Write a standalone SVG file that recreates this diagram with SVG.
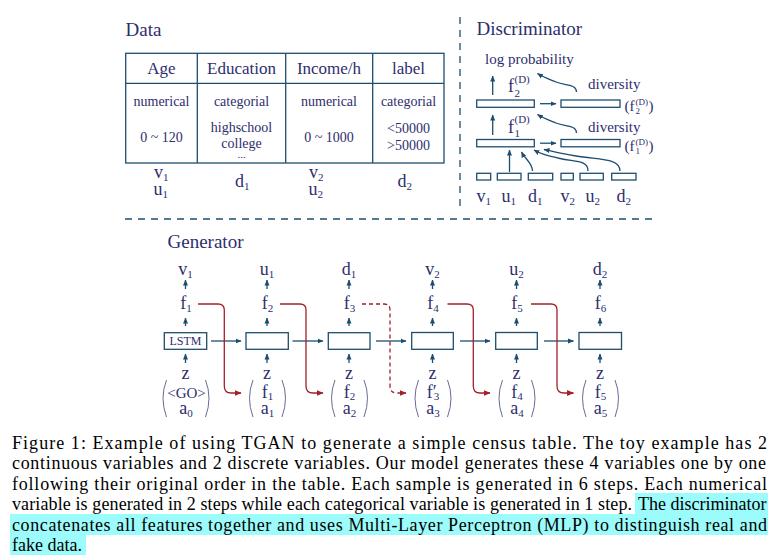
<svg xmlns="http://www.w3.org/2000/svg" width="781" height="560" viewBox="0 0 781 560" font-family="'Liberation Serif','Times New Roman',serif">
<defs>
<style>
.t{font-family:"Liberation Serif","Times New Roman",serif;fill:#2e2e6e}
.cap{font-family:"Liberation Serif","Times New Roman",serif;fill:#000;font-size:18px}
.ln{stroke:#1d4e6f;fill:none;stroke-width:1.3}
.bx{stroke:#1d4e6f;fill:#fff;stroke-width:1.3}
.rd{stroke:#a3202a;fill:none;stroke-width:1.3}
.par{stroke:#6a6a9a;fill:none;stroke-width:1}
.dash{stroke:#1d4e6f;fill:none;stroke-width:1.3;stroke-dasharray:7 6}
.hl{fill:#9cfbfb}
.s{font-size:11px}
</style>
<marker id="ah" viewBox="0 0 6 6" markerWidth="6" markerHeight="6" refX="5.5" refY="3" orient="auto" markerUnits="userSpaceOnUse"><path d="M0,0.5 L6,3 L0,5.5 z" fill="#1d4e6f"/></marker>
<marker id="ahr" viewBox="0 0 6 6" markerWidth="7" markerHeight="7" refX="5.5" refY="3" orient="auto" markerUnits="userSpaceOnUse"><path d="M0,0.5 L6,3 L0,5.5 z" fill="#a3202a"/></marker>
</defs>
<rect width="781" height="560" fill="#fff"/>

<g id="separators">
<line class="dash" x1="460" y1="17" x2="460" y2="207"/>
<line class="dash" x1="125" y1="219" x2="652" y2="219"/>
</g>

<g id="data">
<text class="t" x="125.5" y="36" font-size="19">Data</text>
<rect class="ln" x="125.7" y="53.3" width="318.3" height="109.7"/>
<line class="ln" x1="125.7" y1="83.3" x2="444" y2="83.3" stroke-width="2"/>
<line class="ln" x1="197.3" y1="53.3" x2="197.3" y2="163"/>
<line class="ln" x1="285.7" y1="53.3" x2="285.7" y2="163"/>
<line class="ln" x1="372.7" y1="53.3" x2="372.7" y2="163"/>
<g class="t" font-size="17" text-anchor="middle">
<text x="161.5" y="74">Age</text>
<text x="241.5" y="74">Education</text>
<text x="329" y="74">Income/h</text>
<text x="408.5" y="74">label</text>
</g>
<g class="t" font-size="14" text-anchor="middle">
<text x="161.5" y="105.5">numerical</text>
<text x="241.5" y="105.5">categorial</text>
<text x="329" y="105.5">numerical</text>
<text x="408.5" y="105.5">categorial</text>
<text x="161.5" y="142">0 ~ 120</text>
<text x="241.5" y="131.5">highschool</text>
<text x="241.5" y="147.5">college</text>
<text x="241.5" y="158" font-size="11">...</text>
<text x="329" y="142">0 ~ 1000</text>
<text x="408.5" y="133">&lt;50000</text>
<text x="408.5" y="150">&gt;50000</text>
</g>
<g class="t" font-size="18">
<text x="154" y="178">v<tspan class="s" dy="3">1</tspan></text>
<text x="153.5" y="195">u<tspan class="s" dy="3">1</tspan></text>
<text x="235" y="187">d<tspan class="s" dy="3">1</tspan></text>
<text x="309" y="178">v<tspan class="s" dy="3">2</tspan></text>
<text x="308.5" y="195">u<tspan class="s" dy="3">2</tspan></text>
<text x="397.5" y="187">d<tspan class="s" dy="3">2</tspan></text>
</g>
</g>

<g id="discriminator">
<text class="t" x="476.5" y="35" font-size="19">Discriminator</text>
<text class="t" x="485" y="64" font-size="15">log probability</text>
<g id="d-layer2">
<rect class="bx" x="476.7" y="100" width="57.6" height="7.3"/>
<rect class="bx" x="561" y="100" width="59" height="7.3"/>
</g>
<g id="d-layer1">
<rect class="bx" x="476.7" y="139.5" width="57.6" height="7.3"/>
<rect class="bx" x="561" y="139.5" width="59" height="7.3"/>
</g>
<g id="d-inputs">
<rect class="bx" x="476.7" y="173.3" width="14" height="6.7"/>
<rect class="bx" x="497.3" y="173.3" width="23.7" height="6.7"/>
<rect class="bx" x="528.3" y="173.3" width="24.4" height="6.7"/>
<rect class="bx" x="561" y="173.3" width="12.3" height="6.7"/>
<rect class="bx" x="580" y="173.3" width="23.3" height="6.7"/>
<rect class="bx" x="611.7" y="173.3" width="24.3" height="6.7"/>
</g>
<g class="t" font-size="18">
<text x="508" y="92">f</text>
<text x="514.5" y="97" font-size="11">2</text>
<text x="514.5" y="83" font-size="11">(D)</text>
<text x="508" y="132.5">f</text>
<text x="514.5" y="137" font-size="11">1</text>
<text x="514.5" y="123" font-size="11">(D)</text>
</g>
<g class="t" font-size="15">
<text x="588" y="89">diversity</text>
<text x="588" y="131.5">diversity</text>
<text x="624.5" y="111">(f</text>
<text x="635.5" y="104.5" font-size="9">(D)</text>
<text x="635.5" y="114" font-size="9">2</text>
<text x="648.5" y="111">)</text>
<text x="624.5" y="151">(f</text>
<text x="635.5" y="144.5" font-size="9">(D)</text>
<text x="635.5" y="154" font-size="9">1</text>
<text x="648.5" y="151">)</text>
</g>
<g class="t" font-size="18">
<text x="476.5" y="201.5">v<tspan class="s" dy="3">1</tspan></text>
<text x="501.5" y="201.5">u<tspan class="s" dy="3">1</tspan></text>
<text x="528" y="201.5">d<tspan class="s" dy="3">1</tspan></text>
<text x="560.5" y="201.5">v<tspan class="s" dy="3">2</tspan></text>
<text x="585.5" y="201.5">u<tspan class="s" dy="3">2</tspan></text>
<text x="616.5" y="201.5">d<tspan class="s" dy="3">2</tspan></text>
</g>
</g>

<g id="generator-title"><text class="t" x="167.5" y="247.5" font-size="19">Generator</text></g>

<g id="g1">
<text class="t" x="185.5" y="275" font-size="18" text-anchor="middle">v<tspan class="s" dy="3">1</tspan></text>
<text class="t" x="186" y="309" font-size="18" text-anchor="middle">f<tspan class="s" dy="3">1</tspan></text>
<rect class="bx" x="164.3" y="332.7" width="42.4" height="16.6"/>
<text class="t" x="185.5" y="345" font-size="12" text-anchor="middle">LSTM</text>
<text class="t" x="185.5" y="379" font-size="18" text-anchor="middle">z</text>
<text class="t" x="186.5" y="397.5" font-size="15" text-anchor="middle">&lt;GO&gt;</text>
<text class="t" x="186" y="413.5" font-size="18" text-anchor="middle">a<tspan class="s" dy="3">0</tspan></text>
<path class="par" d="M166.5,380 Q159.5,398 166.5,417"/>
<path class="par" d="M205.5,380 Q212.5,398 205.5,417"/>
</g>
<g id="g2">
<text class="t" x="267" y="275" font-size="18" text-anchor="middle">u<tspan class="s" dy="3">1</tspan></text>
<text class="t" x="267.5" y="309" font-size="18" text-anchor="middle">f<tspan class="s" dy="3">2</tspan></text>
<rect class="bx" x="246" y="332.7" width="42.3" height="16.6"/>
<text class="t" x="267" y="379" font-size="18" text-anchor="middle">z</text>
<text class="t" x="267.5" y="397.5" font-size="18" text-anchor="middle">f<tspan class="s" dy="2.5">1</tspan></text>
<text class="t" x="267.5" y="413.5" font-size="18" text-anchor="middle">a<tspan class="s" dy="3">1</tspan></text>
<path class="par" d="M253,380 Q246,398 253,417"/>
<path class="par" d="M282,380 Q289,398 282,417"/>
</g>
<g id="g3">
<text class="t" x="349" y="275" font-size="18" text-anchor="middle">d<tspan class="s" dy="3">1</tspan></text>
<text class="t" x="349.5" y="309" font-size="18" text-anchor="middle">f<tspan class="s" dy="3">3</tspan></text>
<rect class="bx" x="328.3" y="332.7" width="41.7" height="16.6"/>
<text class="t" x="349" y="379" font-size="18" text-anchor="middle">z</text>
<text class="t" x="349.5" y="397.5" font-size="18" text-anchor="middle">f<tspan class="s" dy="2.5">2</tspan></text>
<text class="t" x="349.5" y="413.5" font-size="18" text-anchor="middle">a<tspan class="s" dy="3">2</tspan></text>
<path class="par" d="M335,380 Q328,398 335,417"/>
<path class="par" d="M364,380 Q371,398 364,417"/>
</g>
<g id="g4">
<text class="t" x="432.5" y="275" font-size="18" text-anchor="middle">v<tspan class="s" dy="3">2</tspan></text>
<text class="t" x="433" y="309" font-size="18" text-anchor="middle">f<tspan class="s" dy="3">4</tspan></text>
<rect class="bx" x="411.7" y="332.5" width="41.6" height="16.8"/>
<text class="t" x="432.5" y="379" font-size="18" text-anchor="middle">z</text>
<text class="t" x="433" y="397.5" font-size="18" text-anchor="middle">f′<tspan class="s" dx="-3" dy="2.5">3</tspan></text>
<text class="t" x="433" y="413.5" font-size="18" text-anchor="middle">a<tspan class="s" dy="3">3</tspan></text>
<path class="par" d="M418.5,380 Q411.5,398 418.5,417"/>
<path class="par" d="M447.5,380 Q454.5,398 447.5,417"/>
</g>
<g id="g5">
<text class="t" x="516.5" y="275" font-size="18" text-anchor="middle">u<tspan class="s" dy="3">2</tspan></text>
<text class="t" x="517" y="309" font-size="18" text-anchor="middle">f<tspan class="s" dy="3">5</tspan></text>
<rect class="bx" x="495.7" y="332.5" width="41.6" height="16.8"/>
<text class="t" x="516.5" y="379" font-size="18" text-anchor="middle">z</text>
<text class="t" x="517" y="397.5" font-size="18" text-anchor="middle">f<tspan class="s" dy="2.5">4</tspan></text>
<text class="t" x="517" y="413.5" font-size="18" text-anchor="middle">a<tspan class="s" dy="3">4</tspan></text>
<path class="par" d="M502.5,380 Q495.5,398 502.5,417"/>
<path class="par" d="M531.5,380 Q538.5,398 531.5,417"/>
</g>
<g id="g6">
<text class="t" x="600" y="275" font-size="18" text-anchor="middle">d<tspan class="s" dy="3">2</tspan></text>
<text class="t" x="600.5" y="309" font-size="18" text-anchor="middle">f<tspan class="s" dy="3">6</tspan></text>
<rect class="bx" x="579" y="332.5" width="42.5" height="16.8"/>
<text class="t" x="600" y="379" font-size="18" text-anchor="middle">z</text>
<text class="t" x="600.5" y="397.5" font-size="18" text-anchor="middle">f<tspan class="s" dy="2.5">5</tspan></text>
<text class="t" x="600.5" y="413.5" font-size="18" text-anchor="middle">a<tspan class="s" dy="3">5</tspan></text>
<path class="par" d="M586,380 Q579,398 586,417"/>
<path class="par" d="M615,380 Q622,398 615,417"/>
</g>

<g id="connectors">
<g class="ln" marker-end="url(#ah)">
<line x1="492.7" y1="95" x2="492.7" y2="76"/>
<line x1="492.7" y1="135" x2="492.7" y2="115"/>
<line x1="509.5" y1="172" x2="509.5" y2="150"/>
<line x1="540" y1="103.7" x2="556" y2="103.7"/>
<line x1="540" y1="143.2" x2="556" y2="143.2"/>
<path d="M532.5,171 C532.5,163 525,159 521.5,152"/>
<path d="M588,171 C588,160 575,162 560,158.5 S541,154 534,150"/>
<path d="M620,171 C620,158 600,160 576,156 S552,151 544,149.5"/>
<path d="M576.5,92 C576.5,84 566,86 556,82 S543,77 537.5,73.5"/>
<path d="M576.5,133 C576.5,125 566,127 556,123 S543,118 537.5,114.5"/>
</g>
<g class="ln" marker-end="url(#ah)">
<line x1="185.5" y1="289" x2="185.5" y2="280"/>
<line x1="185.5" y1="326" x2="185.5" y2="318"/>
<line x1="185.5" y1="363" x2="185.5" y2="354"/>
<line x1="267" y1="289" x2="267" y2="280"/>
<line x1="267" y1="326" x2="267" y2="318"/>
<line x1="267" y1="363" x2="267" y2="354"/>
<line x1="349" y1="289" x2="349" y2="280"/>
<line x1="349" y1="326" x2="349" y2="318"/>
<line x1="349" y1="363" x2="349" y2="354"/>
<line x1="432.5" y1="289" x2="432.5" y2="280"/>
<line x1="432.5" y1="326" x2="432.5" y2="318"/>
<line x1="432.5" y1="363" x2="432.5" y2="354"/>
<line x1="516.5" y1="289" x2="516.5" y2="280"/>
<line x1="516.5" y1="326" x2="516.5" y2="318"/>
<line x1="516.5" y1="363" x2="516.5" y2="354"/>
<line x1="600" y1="289" x2="600" y2="280"/>
<line x1="600" y1="326" x2="600" y2="318"/>
<line x1="600" y1="363" x2="600" y2="354"/>
<line x1="211" y1="341" x2="241" y2="341"/>
<line x1="292.5" y1="341" x2="323" y2="341"/>
<line x1="376" y1="341" x2="406" y2="341"/>
<line x1="460" y1="341" x2="490" y2="341"/>
<line x1="544" y1="341" x2="573.5" y2="341"/>
</g>
<g class="rd" marker-end="url(#ahr)">
<path d="M198,304 H218 Q224.3,304 224.3,310 V386 Q224.3,393 231,393 H241"/>
<path d="M280,304 H300 Q306,304 306,310 V386 Q306,393 313,393 H323"/>
<path d="M362,304 H384 Q390,304 390,310 V386 Q390,393 397,393 H406" stroke-dasharray="4 3"/>
<path d="M447.5,304 H467 Q473.3,304 473.3,310 V386 Q473.3,393 480,393 H490"/>
<path d="M531,304 H551 Q557,304 557,310 V386 Q557,393 564,393 H573.5"/>
</g>
</g>

<g id="caption">
<rect class="hl" x="635" y="493" width="133" height="21"/>
<rect class="hl" x="10" y="514" width="758" height="21"/>
<rect class="hl" x="10" y="535" width="76" height="20"/>
<text class="cap" x="12" y="448.5" textLength="755" lengthAdjust="spacing">Figure 1: Example of using TGAN to generate a simple census table. The toy example has 2</text>
<text class="cap" x="12" y="469" textLength="754" lengthAdjust="spacing">continuous variables and 2 discrete variables. Our model generates these 4 variables one by one</text>
<text class="cap" x="12" y="489.5" textLength="755" lengthAdjust="spacing">following their original order in the table. Each sample is generated in 6 steps. Each numerical</text>
<text class="cap" x="12" y="510" textLength="620" lengthAdjust="spacing">variable is generated in 2 steps while each categorical variable is generated in 1 step.</text>
<text class="cap" x="638" y="510" textLength="128.5" lengthAdjust="spacing">The discriminator</text>
<text class="cap" x="12" y="530.5" textLength="755" lengthAdjust="spacing">concatenates all features together and uses Multi-Layer Perceptron (MLP) to distinguish real and</text>
<text class="cap" x="12" y="551">fake data.</text>
</g>
</svg>
